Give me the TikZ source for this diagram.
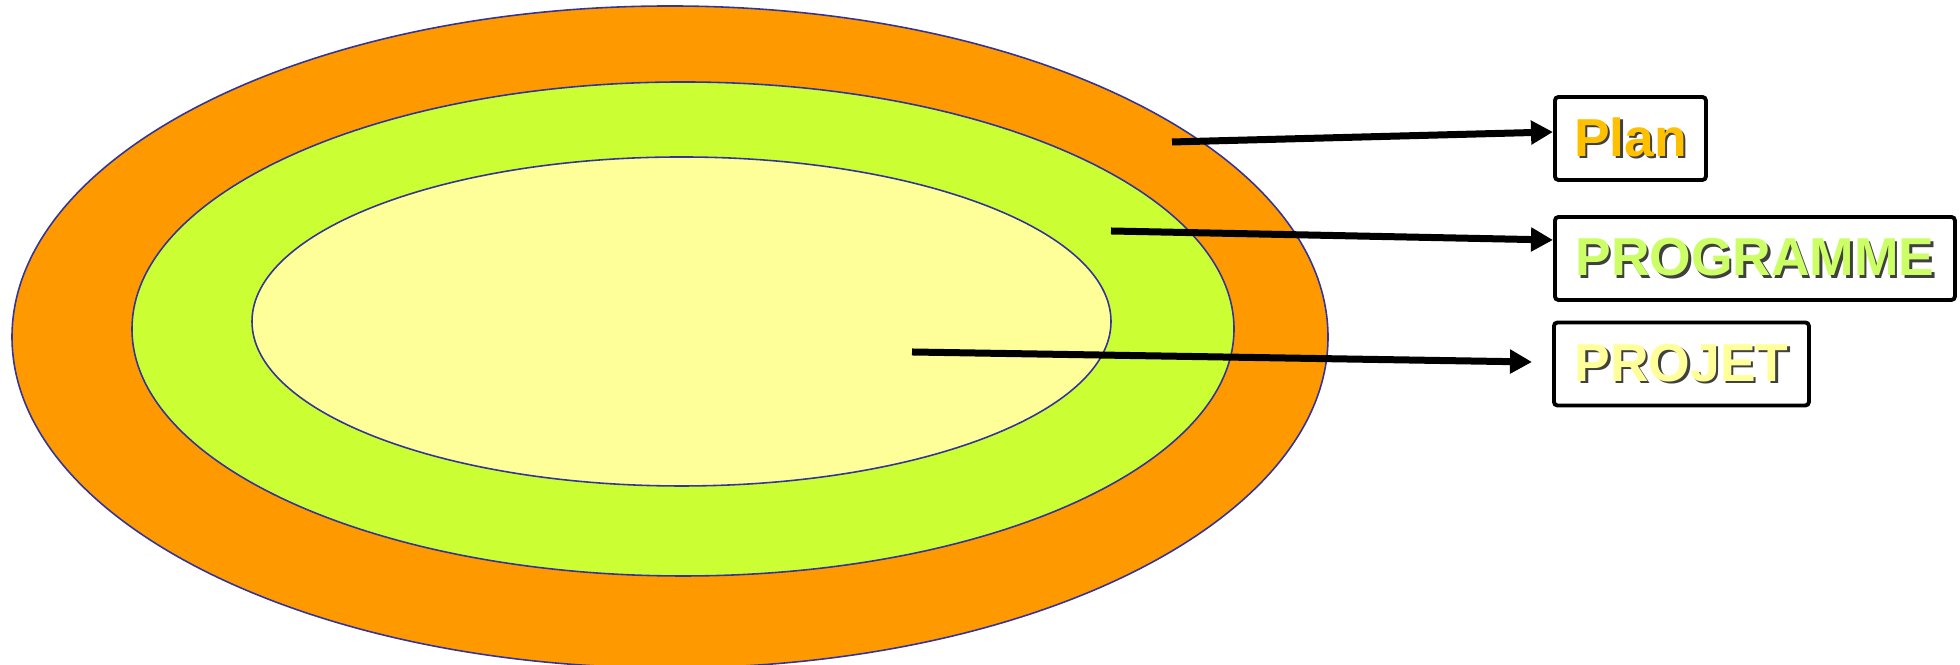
\documentclass[tikz,border=0pt]{standalone}
\usepackage{fontspec}
\usepackage{xcolor}
\usepackage{tikz}
\usetikzlibrary{arrows.meta,positioning,calc}
\newfontfamily\labelfont{Liberation Sans}
\definecolor{ringorange}{HTML}{FF9900}
\definecolor{ringgreen}{HTML}{CCFF33}
\definecolor{ringyellow}{HTML}{FFFF99}
\definecolor{ringedge}{HTML}{333399}
\definecolor{plantext}{HTML}{FFC000}
\definecolor{progtext}{HTML}{CCFF66}
\definecolor{projtext}{HTML}{FFFF99}
\newcommand{\shadowlabel}[2]{\rlap{\hspace{0.7pt}\raisebox{-0.7pt}{\color{black!75}#2}}\textcolor{#1}{#2}}

\begin{document}
\begin{tikzpicture}[
  ring/.style={draw=ringedge, line width=0.45pt},
  box/.style={draw, line width=1.1pt, rounded corners=1pt, anchor=west, minimum height=0.83cm,
    inner sep=0pt, font=\labelfont\bfseries\fontsize{15.2}{18}\selectfont},
  arr/.style={-{Triangle[length=2.2mm,width=2.3mm]}, line width=0.07cm}
]
  \useasboundingbox (0,0) rectangle (19.6,6.65);
  \fill[white] (0,0) rectangle (19.6,6.65);
  \draw[ring, fill=ringorange] (6.70,3.28) ellipse (6.58 and 3.31);
  \draw[ring, fill=ringgreen]  (6.83,3.36) ellipse (5.51 and 2.47);
  \draw[ring, fill=ringyellow] (6.815,3.435) ellipse (4.295 and 1.645);

  \node[box, minimum width=1.51cm] (plan) at (15.53,5.265) {\shadowlabel{plantext}{Plan}};
  \node[box, minimum width=4.00cm] (prog) at (15.53,4.065) {\shadowlabel{progtext}{PROGRAMME}};
  \node[box, minimum width=2.55cm] (proj) at (15.52,3.01) {\shadowlabel{projtext}{PROJET}};

  \coordinate (planstart) at (11.72,5.23);
  \coordinate (progstart) at (11.11,4.34);
  \coordinate (projstart) at (9.12,3.13);
  \coordinate (projend) at (15.32,3.03);

  \draw[arr] (planstart) -- ([yshift=0.65mm]plan.west);
  \draw[arr] (progstart) -- ([yshift=1.85mm]prog.west);
  \draw[arr] (projstart) -- (projend);
\end{tikzpicture}
\end{document}
